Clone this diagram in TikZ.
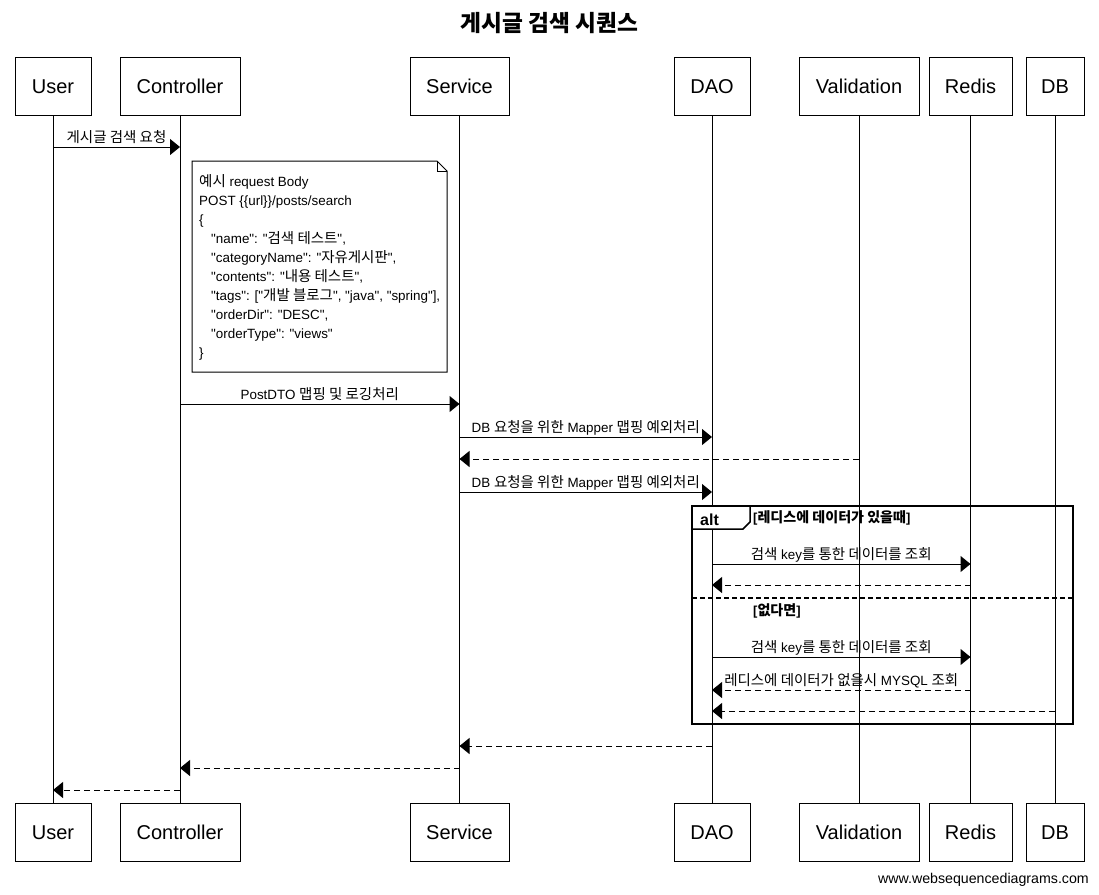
\documentclass[tikz,border=0pt]{standalone}
\usepackage{fontspec}
\setmainfont{Liberation Sans}[Ligatures=TeXOff]
\newfontfamily\kr{Noto Sans CJK KR}[Scale=1.08]
\usetikzlibrary{arrows.meta}
\newcommand\K[1]{{\kr #1}}
\tikzset{
  part/.style={draw, line width=1pt, minimum height=58pt, inner sep=0pt,
    text height=14.4pt, text depth=0pt,
    font=\fontsize{20}{24}\selectfont, fill=white},
  life/.style={line width=1pt},
  call/.style={line width=1pt, -{Triangle[length=10pt,width=16pt]}},
  ret/.style={call, dash pattern=on 6pt off 4pt},
  lbl/.style={font=\fontsize{13.4}{15}\selectfont, anchor=base, yshift=5pt, inner sep=0pt},
  notetext/.style={font=\fontsize{13.4}{15}\selectfont, anchor=base west, inner sep=0pt},
  cond/.style={font=\bfseries\fontsize{13}{15}\selectfont, anchor=base west, inner sep=0pt},
}
\begin{document}
\begin{tikzpicture}[x=1pt,y=-1pt]
\useasboundingbox (0,0) rectangle (1099,894);

\node[font=\bfseries\fontsize{21}{26}\selectfont] (title) at (549.5,23) {\K{게시글 검색 시퀀스}};

% participants, top and bottom, joined by their lifelines
\foreach \n/\t/\l/\r in {u/User/15/91, c/Controller/120/240, s/Service/410/509,
    d/DAO/674/750, v/Validation/799/919, r/Redis/929/1012, b/DB/1026/1084}{
  \node[part, minimum width={\r-\l}] (\n T) at ({(\l+\r)/2},86) {\t};
  \node[part, minimum width={\r-\l}] (\n B) at ({(\l+\r)/2},832) {\t};
  \draw[life] (\n T.south) -- (\n B.north);
}

% note with folded corner
\draw[line width=1pt, fill=white] (192,161) -- (437,161) -- (447,171) -- (447,372) -- (192,372) -- cycle;
\draw[line width=1pt] (437,161) -- (437,171) -- (447,171);
\node[notetext] (n1) at (199,186) {\K{예시} request Body};
\node[notetext] (n2) at (199,205) {POST \{\{url\}\}/posts/search};
\node[notetext] (n3) at (199,224) {\{};
\node[notetext] (n4) at (211,243) {"name": "\K{검색 테스트}",};
\node[notetext] (n5) at (211,262) {"categoryName": "\K{자유게시판}",};
\node[notetext] (n6) at (211,281) {"contents": "\K{내용 테스트}",};
\node[notetext] (n7) at (211,300) {"tags": ["\K{개발 블로그}", "java", "spring"],};
\node[notetext] (n8) at (211,319) {"orderDir": "DESC",};
\node[notetext] (n9) at (211,338) {"orderType": "views"};
\node[notetext] (n10) at (199,357) {\}};

% messages
\draw[call] (uT |- 0,147) -- node[lbl] (m1) {\K{게시글 검색 요청}} (cT |- 0,147);
\draw[call] (cT |- 0,404) -- node[lbl] (m2) {PostDTO \K{맵핑 및 로깅처리}} (sT |- 0,404);
\draw[call] (sT |- 0,437) -- node[lbl] (m3) {DB \K{요청을 위한} Mapper \K{맵핑 예외처리}} (dT |- 0,437);
\draw[ret] (vT |- 0,459) -- (sT |- 0,459);
\draw[call] (sT |- 0,492) -- node[lbl] (m5) {DB \K{요청을 위한} Mapper \K{맵핑 예외처리}} (dT |- 0,492);

% alt frame
\draw[line width=2pt] (692,506) rectangle (1073,724);
\draw[line width=1.5pt, fill=white] (692,506) -- (750,506) -- (750,522) -- (743,529) -- (692,529) -- cycle;
\node[font=\bfseries\fontsize{16}{18}\selectfont, anchor=base west, inner sep=0pt] (alt) at (700,525) {alt};
\node[cond] (c1) at (753,522) {[\K{레디스에 데이터가 있을때}]};
\draw[line width=2pt, dash pattern=on 5pt off 3pt] (692,598) -- (1073,598);
\node[cond] (c2) at (753,615) {[\K{없다면}]};

\draw[call] (dT |- 0,564) -- node[lbl] (m6) {\K{검색} key\K{를 통한 데이터를 조회}} (rT |- 0,564);
\draw[ret] (rT |- 0,585) -- (dT |- 0,585);
\draw[call] (dT |- 0,657) -- node[lbl] (m8) {\K{검색} key\K{를 통한 데이터를 조회}} (rT |- 0,657);
\draw[ret] (rT |- 0,690) -- node[lbl] (m9) {\K{레디스에 데이터가 없을시} MYSQL \K{조회}} (dT |- 0,690);
\draw[ret] (bT |- 0,711) -- (dT |- 0,711);

\draw[ret] (dT |- 0,746) -- (sT |- 0,746);
\draw[ret] (sT |- 0,768) -- (cT |- 0,768);
\draw[ret] (cT |- 0,790) -- (uT |- 0,790);

\node[font=\fontsize{14.2}{16}\selectfont, anchor=base east, inner sep=0pt] (site) at (1089,883) {www.websequencediagrams.com};
\end{tikzpicture}
\end{document}
